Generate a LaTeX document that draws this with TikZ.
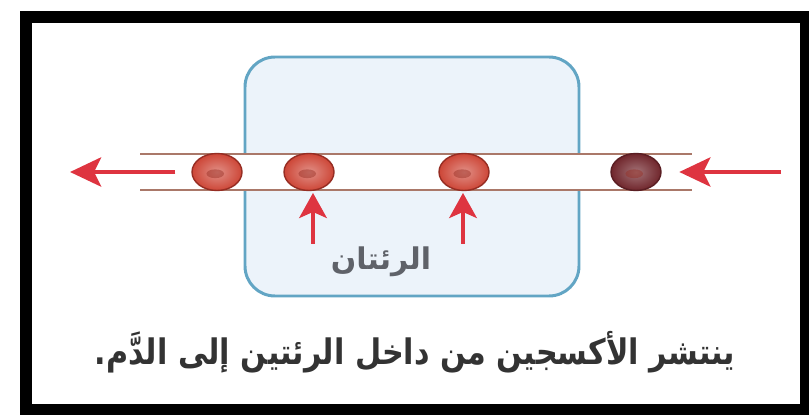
\documentclass[tikz,border=0pt]{standalone}
\usepackage{fontspec}
\TeXXeTstate=1
\newfontfamily\arabicfont[Script=Arabic]{DejaVu Sans}
\usetikzlibrary{positioning, arrows.meta, shapes, calc}

\definecolor{lungblue}{RGB}{98,165,196}
\definecolor{lungfill}{RGB}{236,243,250}
\definecolor{vessel}{RGB}{170,120,105}
\definecolor{flowred}{RGB}{222,52,64}
\definecolor{cellred}{RGB}{205,70,55}
\definecolor{cellrim}{RGB}{150,45,35}
\definecolor{cello2}{RGB}{112,38,44}
\definecolor{textgray}{RGB}{95,98,105}

\begin{document}
\begin{tikzpicture}[x=0.02cm, y=-0.02cm,
	cell/.style={ellipse, minimum width=1cm, minimum height=0.74cm, inner sep=0pt,
		draw=cellrim, line width=0.8pt, inner color=cellred!60!white, outer color=cellred,
		path picture={\fill[cellrim, opacity=0.45] ([xshift=-1pt, yshift=-1pt]path picture bounding box.center) ellipse (5pt and 2.5pt);}},
	darkcell/.style={cell, draw=cello2!80!black, inner color=cello2!65!white, outer color=cello2},
	flow/.style={-{Stealth[length=0.62cm, width=0.58cm, inset=0.14cm]}, line width=2.8pt, flowred},
	uptake/.style={-{Stealth[length=0.5cm, width=0.55cm, inset=0.12cm]}, line width=2.3pt, flowred},
	label/.style={font=\arabicfont\bfseries, text=textgray}]

	\useasboundingbox (0,0) rectangle (809,415);

	% marco exterior
	\draw[line width=6.8pt] (26,17) rectangle (806,410);

	% pulmones
	\draw[lungblue, fill=lungfill, line width=1.7pt, rounded corners=0.6cm] (245,57) rectangle (579,296);
	\node[label, font=\arabicfont\bfseries\fontsize{17}{20}\selectfont] (lungs) at (381,262) {\beginR الرئتان\endR};

	% vaso sanguineo
	\fill[white] (140,154) rectangle (692,190);
	\draw[vessel, line width=1.1pt] (140,154) -- (692,154);
	\draw[vessel, line width=1.1pt] (140,190) -- (692,190);

	% globulos rojos
	\node[cell] (rbc1) at (217,172) {};
	\node[cell] (rbc2) at (309,172) {};
	\node[cell] (rbc3) at (464,172) {};
	\node[darkcell] (rbc4) at (636,172) {};

	% entrada y salida de la sangre
	\coordinate (bloodin) at (781,172);
	\coordinate (bloodout) at (70,172);
	\draw[flow, shorten >=10pt] (bloodin) -- (rbc4);
	\draw[flow, shorten <=9pt] (rbc1) -- (bloodout);

	% oxigeno desde los pulmones
	\coordinate (o2a) at (313,244);
	\coordinate (o2b) at (463,244);
	\draw[uptake, shorten >=1pt] (o2a) -- (rbc2.south -| o2a);
	\draw[uptake, shorten >=1pt] (o2b) -- (rbc3.south -| o2b);

	% pie de figura
	\node[label, text=black!80, font=\arabicfont\bfseries\fontsize{20}{24}\selectfont] (caption) at (415,352)
		{\scalebox{0.86}[1]{\beginR ينتشر الأكسجين من داخل الرئتين إلى الدَّم.\endR}};
\end{tikzpicture}
\end{document}
